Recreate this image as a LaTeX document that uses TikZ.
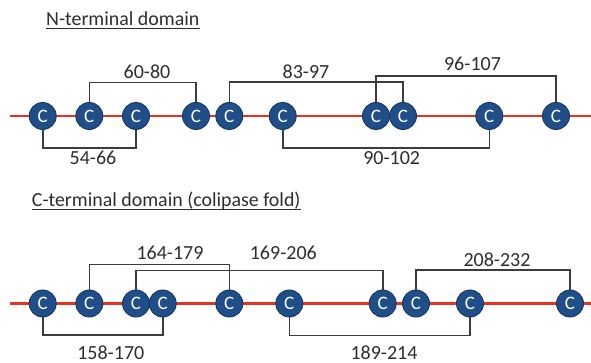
\documentclass[tikz,border=0pt]{standalone}
\usepackage{fontspec}
\setmainfont{Carlito}
\definecolor{cysfill}{RGB}{31,78,137}
\definecolor{cysedge}{RGB}{22,55,100}
\definecolor{chain}{RGB}{232,50,30}
\definecolor{bond}{RGB}{60,60,60}
\definecolor{ink}{RGB}{45,45,45}
\tikzset{
  cys/.style={circle, fill=cysfill, draw=cysedge, line width=0.9pt,
    minimum size=27pt, inner sep=0pt, text=white,
    font=\fontsize{19}{19}\selectfont, node contents={C}},
  chainline/.style={draw=chain, line width=2.3pt},
  bondline/.style={draw=bond, line width=1.6pt},
  pairlabel/.style={inner sep=0pt, text=ink, font=\fontsize{20}{20}\selectfont},
  heading/.style={inner sep=0pt, anchor=base west, text=ink, font=\fontsize{19.9}{19.9}\selectfont},
  headrule/.style={draw=ink, line width=1.4pt}
}
\begin{document}
\begin{tikzpicture}[x=1pt, y=-1pt]
\useasboundingbox (0,0) rectangle (591,363);

% ---- N-terminal domain ----
\node[heading] (tN) at (46,26) {N-terminal domain};
\draw[headrule] ([yshift=-2.8pt]tN.base west) -- ([yshift=-2.8pt]tN.base east);

\coordinate (aL) at (10,116);
\coordinate (aR) at (591,116);
\draw[chainline] (aL) -- (aR);

\foreach \i/\x in {1/42.7, 2/89.3, 3/136, 4/196, 5/229.3, 6/282.7, 7/376, 8/403, 9/489.3, 10/556}
  \node (n\i) at (\x,116) [cys];

% disulfide bonds, drawn from circle to circle
\draw[bondline] (n1.south) -- (n1.south |- 0,148) -| (n3.south);
\draw[bondline] (n2.north) -- (n2.north |- 0,82.7) -| (n4.north);
\draw[bondline] (n5.north) -- (n5.north |- 0,82) -| (n8.north);
\draw[bondline] (n7.north) -- (n7.north |- 0,75.8) -| (n10.north);
\draw[bondline] (n6.south) -- (n6.south |- 0,148) -| (n9.south);

\node[pairlabel] (l1) at (93,158.3) {54-66};
\node[pairlabel] (l2) at (147,72) {60-80};
\node[pairlabel] (l3) at (306,71.5) {83-97};
\node[pairlabel] (l4) at (472.5,64.3) {96-107};
\node[pairlabel] (l5) at (391.7,158.3) {90-102};

% ---- C-terminal domain ----
\node[heading] (tC) at (31.7,206.7) {C-terminal domain (colipase fold)};
\draw[headrule] ([yshift=-2.8pt]tC.base west) -- ([yshift=-2.8pt]tC.base east);

\coordinate (bL) at (10,303.5);
\coordinate (bR) at (591,303.5);
\draw[chainline] (bL) -- (bR);

\foreach \i/\x in {1/42.7, 2/89.3, 3/136, 4/162.7, 5/229.3, 6/289.3, 7/382.7, 8/416, 9/470, 10/570}
  \node (c\i) at (\x,303.5) [cys];

\draw[bondline] (c1.south) -- (c1.south |- 0,335) -| (c4.south);
\draw[bondline] (c2.north) -- (c2.north |- 0,264.3) -| (c5.north);
\draw[bondline] (c3.north) -- (c3.north |- 0,270.3) -| (c7.north);
\draw[bondline] (c6.south) -- (c6.south |- 0,335.5) -| (c9.south);
\draw[bondline] (c8.north) -- (c8.north |- 0,270) -| (c10.north);

\node[pairlabel] (m1) at (110.8,352.3) {158-170};
\node[pairlabel] (m2) at (170,253.3) {164-179};
\node[pairlabel] (m3) at (283.3,253.3) {169-206};
\node[pairlabel] (m4) at (384,352.3) {189-214};
\node[pairlabel] (m5) at (497,260) {208-232};
\end{tikzpicture}
\end{document}
